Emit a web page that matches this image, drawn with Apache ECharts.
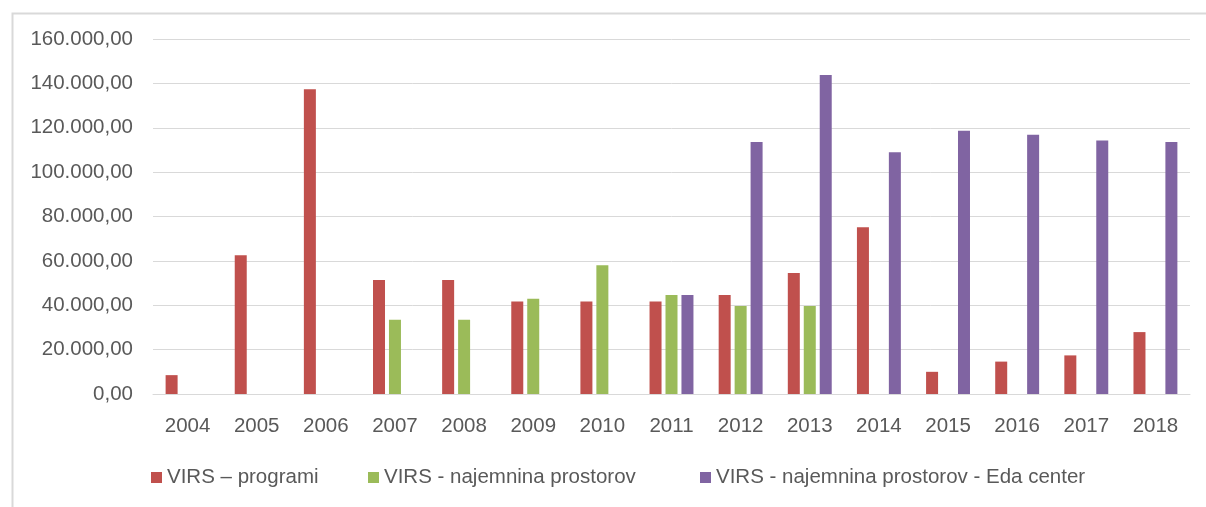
<!DOCTYPE html>
<html>
<head>
<meta charset="utf-8">
<script src="https://cdn.jsdelivr.net/npm/echarts@6/dist/echarts.min.js"></script>
<style>
html,body{margin:0;padding:0;background:#fff;}
#chart{width:1206px;height:507px;}
</style>
</head>
<body>
<div id="chart"></div>
<script>
const years = ['2004','2005','2006','2007','2008','2009','2010','2011','2012','2013','2014','2015','2016','2017','2018'];
const programi = [8500, 62500, 137400, 51400, 51400, 41700, 41700, 41700, 44600, 54500, 75100, 10000, 14600, 17400, 27900];
const najemnina = [null, null, null, 33500, 33500, 42900, 58000, 44600, 39700, 39700, null, null, null, null, null];
const edaCenter = [null, null, null, null, null, null, null, 44600, 113600, 143800, 109000, 118700, 116900, 114300, 113600];
const seriesNames = ['VIRS – programi', 'VIRS - najemnina prostorov', 'VIRS - najemnina prostorov - Eda center'];
const colors = ['#C0504D', '#9BBB59', '#8064A2'];

const FONT = 'Liberation Sans';
const TXT = '#595959';
const FS = 20.5;

function fmt(v) {
  const s = Math.round(v).toString().replace(/\B(?=(\d{3})+(?!\d))/g, '.');
  return s + ',00';
}

const chart = echarts.init(document.getElementById('chart'), null, {renderer: 'canvas'});
const legendCommon = {
  orient: 'horizontal', top: 462, itemWidth: 11, itemHeight: 11, itemGap: 40,
  icon: 'rect', selectedMode: false,
  textStyle: {color: TXT, fontFamily: FONT, fontSize: FS}
};
chart.setOption({
  animation: false,
  backgroundColor: '#fff',
  graphic: [{
    type: 'rect', left: 10, top: 11, silent: true,
    shape: {x: 0, y: 0, width: 1300, height: 600},
    style: {fill: 'none', stroke: '#d9d9d9', lineWidth: 2}
  }],
  legend: [
    Object.assign({left: 146, data: [seriesNames[0]]}, legendCommon),
    Object.assign({left: 363, data: [seriesNames[1]]}, legendCommon),
    Object.assign({left: 695, data: [seriesNames[2]]}, legendCommon)
  ],
  grid: {left: 153, right: 16, top: 39, bottom: 113, containLabel: false},
  xAxis: {
    type: 'category', data: years,
    axisLine: {show: true, lineStyle: {color: '#d9d9d9', width: 1}},
    axisTick: {show: false},
    axisLabel: {color: TXT, fontFamily: FONT, fontSize: FS, margin: 22}
  },
  yAxis: {
    type: 'value', min: 0, max: 160000, interval: 20000,
    axisLine: {show: false}, axisTick: {show: false},
    splitLine: {lineStyle: {color: '#d9d9d9', width: 1}},
    axisLabel: {color: TXT, fontFamily: FONT, fontSize: FS, margin: 20, formatter: fmt}
  },
  series: [
    {name: seriesNames[0], type: 'bar', data: programi, barWidth: 12, barGap: '33%', itemStyle: {color: colors[0]}},
    {name: seriesNames[1], type: 'bar', data: najemnina, barWidth: 12, barGap: '33%', itemStyle: {color: colors[1]}},
    {name: seriesNames[2], type: 'bar', data: edaCenter, barWidth: 12, barGap: '33%', itemStyle: {color: colors[2]}}
  ]
});
</script>
</body>
</html>
